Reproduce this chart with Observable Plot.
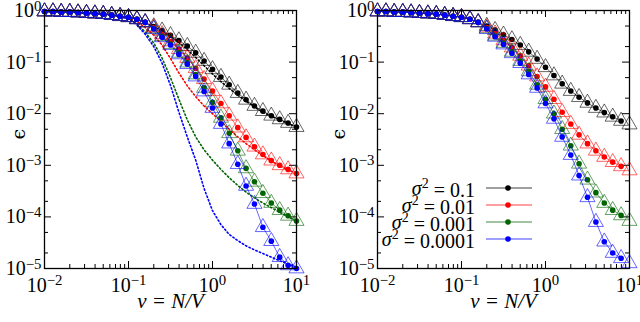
<!DOCTYPE html>
<html><head><meta charset="utf-8">
<script src="https://cdn.jsdelivr.net/npm/d3@7"></script>
<script src="https://cdn.jsdelivr.net/npm/@observablehq/plot@0.6"></script>
<style>
body{margin:0;background:#fff;}
#wrap{width:640px;height:322px;display:flex;}
</style></head><body><div id="wrap"></div>
<script>
// ν = N/V grid
const nu = [0.01,0.0126,0.0158,0.02,0.0251,0.0316,0.0398,0.0501,0.0631,0.0794,
            0.1,0.126,0.158,0.2,0.251,0.316,0.398,0.501,0.631,0.794,
            1,1.26,1.58,2,2.51,3.16,3.98,5.01,6.31,7.94,10];
const sigmaLabels = ["0.1","0.01","0.001","0.0001"];
const colors = ["#000000","#ff0000","#006400","#0000ff"];

// left panel: simulation points (circles + triangles)
const leftBlack = [0.955,0.955,0.933,0.933,0.912,0.891,0.871,0.851,0.813,0.776,0.741,0.676,0.589,
  0.490,0.407,0.331,0.263,0.204,0.151,0.105,0.0724,0.0513,0.0363,0.0251,0.0186,0.0141,0.0112,0.00912,0.00776,0.00661,0.00550];
const leftRed = [0.955,0.955,0.933,0.933,0.912,0.891,0.871,0.851,0.813,0.776,0.741,0.676,0.589,
  0.468,0.347,0.251,0.178,0.120,0.0759,0.0468,0.0275,0.0158,0.00912,0.00537,0.00347,0.00229,0.00162,0.00123,0.00100,0.000832,0.000692];
const leftGreen = [0.955,0.955,0.933,0.933,0.912,0.891,0.871,0.851,0.813,0.776,0.741,0.676,0.589,
  0.447,0.316,0.224,0.151,0.0977,0.0575,0.0316,0.0166,0.00832,0.00417,0.00191,0.000871,0.000479,0.000288,0.000186,0.000135,0.000105,0.0000832];
const leftBlue = [0.955,0.955,0.933,0.933,0.912,0.891,0.871,0.851,0.813,0.776,0.741,0.676,0.589,
  0.437,0.302,0.214,0.141,0.0912,0.0525,0.0269,0.0129,0.00631,0.00263,0.00105,0.000398,0.000178,0.0000631,0.0000339,0.0000166,0.0000115,0.0000100];

// left panel: dotted approximations
const dotBlack = [0.955,0.955,0.933,0.933,0.912,0.891,0.871,0.851,0.813,0.776,0.741,0.676,0.589,
  0.479,0.398,0.316,0.240,0.174,0.123,0.0851,0.0589,0.0417,0.0309,0.0229,0.0174,0.0135,0.0107,0.00891,0.00759,0.00646,0.00550];
const dotRed = [0.955,0.955,0.933,0.933,0.912,0.891,0.871,0.851,0.813,0.776,
  0.708,0.603,0.468,0.331,0.214,0.117,0.0617,0.0347,0.0214,0.0141,0.0100,0.00708,0.00501,0.00355,0.00263,0.00200,0.00155,0.00120,0.000977,0.000813,0.000692];
const dotGreen = [0.955,0.955,0.933,0.933,0.912,0.891,0.871,0.851,0.813,0.776,
  0.692,0.550,0.380,0.234,0.120,0.0501,0.0191,0.00759,0.00355,0.00200,0.00126,0.000832,0.000575,0.000407,0.000302,0.000234,0.000186,0.000151,0.000123,0.000100,0.0000832];
const dotBlue = [0.955,0.955,0.933,0.933,0.912,0.891,0.871,0.851,0.813,0.776,
  0.676,0.525,0.347,0.200,0.0955,0.0355,0.0107,0.00355,0.00126,0.000355,0.000132,0.0000708,0.0000457,0.0000347,0.0000275,0.0000229,0.0000195,0.0000166,0.0000141,0.0000123,0.0000107];

// right panel
const rightBlack = [0.955,0.955,0.933,0.933,0.912,0.891,0.871,0.851,0.813,0.776,0.741,0.676,0.589,
  0.501,0.417,0.339,0.275,0.214,0.158,0.115,0.0794,0.0550,0.0380,0.0275,0.0209,0.0162,0.0129,0.0105,0.00871,0.00724,0.00617];
const rightRed = [0.955,0.955,0.933,0.933,0.912,0.891,0.871,0.851,0.813,0.776,0.741,0.676,0.589,
  0.468,0.355,0.263,0.191,0.132,0.0851,0.0525,0.0331,0.0191,0.0107,0.00631,0.00389,0.00263,0.00191,0.00145,0.00115,0.000955,0.000794];
const rightGreen = [0.955,0.955,0.933,0.933,0.912,0.891,0.871,0.851,0.813,0.776,0.741,0.676,0.589,
  0.447,0.324,0.234,0.158,0.105,0.0661,0.0363,0.0191,0.0100,0.00501,0.00240,0.00107,0.000525,0.000295,0.000186,0.000135,0.000107,0.0000832];
const rightBlue = [0.955,0.955,0.933,0.933,0.912,0.891,0.871,0.851,0.813,0.776,0.741,0.676,0.589,
  0.437,0.309,0.219,0.148,0.0955,0.0575,0.0316,0.0158,0.00794,0.00355,0.00158,0.000631,0.000240,0.0000794,0.0000331,0.0000200,0.0000158,0.0000126];

// ticks
const xMajor = [0.01,0.1,1,10];
const xMinor = [0.02,0.03,0.04,0.05,0.06,0.07,0.08,0.09,0.2,0.3,0.4,0.5,0.6,0.7,0.8,0.9,2,3,4,5,6,7,8,9];
const yMajor = [1e-5,1e-4,1e-3,1e-2,1e-1,1];
const yMinor = [2e-5,5e-5,2e-4,5e-4,2e-3,5e-3,2e-2,5e-2,0.2,0.5];

const toRows = (vals, n) => vals.slice(0, n).map((e, k) => ({nu: nu[k], eps: e}));
const expFmt = d => String(Math.round(Math.log10(d))).replace("-", "\u2212");

function supify(svg) {
  d3.select(svg).selectAll('g[aria-label="x-axis tick label"] text, g[aria-label="y-axis tick label"] text').each(function() {
    const t = d3.select(this);
    const e = t.text();
    t.text(null);
    t.append("tspan").text("10");
    t.append("tspan").attr("dy", "-0.42em").attr("font-size", "0.74em").text(e);
  });
}

function panel({marginLeft, marginRight, series, circleN, dotted}) {
  const W = 320, H = 322, mt = 10, mb = 54;
  const fh = H - mt - mb, fw = W - marginLeft - marginRight;
  const marks = [];
  marks.push(Plot.tickX(xMajor, {insetTop: fh - 7, stroke: "#000"}));
  marks.push(Plot.tickX(xMajor, {insetBottom: fh - 7, stroke: "#000"}));
  marks.push(Plot.tickX(xMinor, {insetTop: fh - 4, stroke: "#000"}));
  marks.push(Plot.tickX(xMinor, {insetBottom: fh - 4, stroke: "#000"}));
  marks.push(Plot.tickY(yMajor, {insetRight: fw - 7, stroke: "#000"}));
  marks.push(Plot.tickY(yMajor, {insetLeft: fw - 7, stroke: "#000"}));
  marks.push(Plot.tickY(yMinor, {insetRight: fw - 4, stroke: "#000"}));
  marks.push(Plot.tickY(yMinor, {insetLeft: fw - 4, stroke: "#000"}));
  if (dotted) dotted.forEach((vals, i) => {
    marks.push(Plot.line(toRows(vals, 31), {x: "nu", y: "eps", stroke: colors[i], strokeWidth: 1.6, strokeDasharray: "1.4 2.4"}));
  });
  series.forEach((vals, i) => {
    const tri = toRows(vals, 31);
    const circ = toRows(vals, circleN);
    marks.push(Plot.dot(tri, {x: "nu", y: "eps", symbol: "triangle", r: 5.6, stroke: colors[i], strokeOpacity: 0.6, strokeWidth: 1, fill: "none"}));
    marks.push(Plot.line(circ, {x: "nu", y: "eps", stroke: colors[i], strokeOpacity: 0.6, strokeWidth: 1}));
    marks.push(Plot.dot(circ, {x: "nu", y: "eps", r: 2.8, fill: colors[i], stroke: "none"}));
  });
  marks.push(Plot.frame({stroke: "#000", strokeWidth: 1.3}));
  marks.push(Plot.text(["\u03bd = N/V"], {frameAnchor: "bottom", dy: 39, fontSize: 21, fontStyle: "italic"}));
  marks.push(Plot.text(["\u03f5"], {frameAnchor: "left", dx: -(marginLeft - 18), rotate: -90, fontSize: 19, fontFamily: "DejaVu Serif"}));
  const svg = Plot.plot({
    width: W, height: H, marginTop: mt, marginBottom: mb, marginLeft, marginRight,
    style: {fontFamily: "'Liberation Serif', serif", fontSize: "20px", background: "#fff", color: "#000"},
    x: {type: "log", domain: [0.01, 10], ticks: xMajor, tickFormat: expFmt, tickSize: 0, tickPadding: 9, label: null},
    y: {type: "log", domain: [1e-5, 1], ticks: yMajor, tickFormat: expFmt, tickSize: 0, tickPadding: 3, label: null},
    marks
  });
  supify(svg);
  return svg;
}

const wrap = document.getElementById("wrap");
const left = panel({marginLeft: 44, marginRight: 24, series: [leftBlack, leftRed, leftGreen, leftBlue], circleN: 31,
                    dotted: [dotBlack, dotRed, dotGreen, dotBlue]});
const right = panel({marginLeft: 57, marginRight: 11, series: [rightBlack, rightRed, rightGreen, rightBlue], circleN: 30});
wrap.appendChild(left);
wrap.appendChild(right);

// legend inside the right panel
const lg = d3.select(right).append("g").attr("font-family", "'Liberation Serif', serif").attr("font-size", 20);
sigmaLabels.forEach((lab, i) => {
  const cy = 188 + i * 17;
  const t = lg.append("text").attr("x", 155).attr("y", cy + 6.5).attr("text-anchor", "end");
  t.append("tspan").attr("font-style", "italic").text("\u03c3");
  t.append("tspan").attr("dy", "-0.45em").attr("font-size", "0.7em").text("2");
  t.append("tspan").attr("dy", "0.45em").text(" = " + lab);
  lg.append("line").attr("x1", 166).attr("x2", 212).attr("y1", cy).attr("y2", cy)
    .attr("stroke", colors[i]).attr("stroke-opacity", 0.5).attr("stroke-width", 1.5);
  lg.append("circle").attr("cx", 188).attr("cy", cy).attr("r", 2.8).attr("fill", colors[i]);
});
</script></body></html>
